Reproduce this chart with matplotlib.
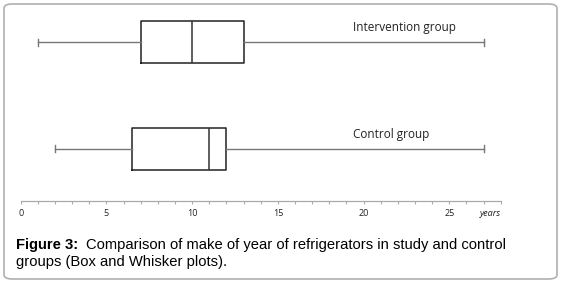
import matplotlib
matplotlib.use("Agg")
from matplotlib import pyplot as plt
from matplotlib.patches import FancyBboxPatch

# box and whisker summaries (years)
groups = ["Control group", "Intervention group"]
whisker_low = [2, 1]
q1 = [6.5, 7]
median = [11, 10]
q3 = [12, 13]
whisker_high = [27, 27]
tick_values = list(range(0, 26, 5))
tick_labels = [str(t) for t in tick_values]

fig = plt.figure(figsize=(5.61, 2.83), dpi=100)

# rounded grey frame round the whole figure
frame = FancyBboxPatch((4 / 561, 4 / 283), 553 / 561, 275 / 283,
                       boxstyle="round,pad=0,rounding_size=0.015",
                       transform=fig.transFigure, facecolor="white",
                       edgecolor="#b0b0b0", linewidth=1.2, zorder=-5)
fig.patches.append(frame)

ax = fig.add_axes([20.7 / 561, 82 / 283, 480 / 561, 191 / 283])
ax.patch.set_visible(False)

stats = []
for i in range(len(groups)):
    stats.append(dict(whislo=whisker_low[i], q1=q1[i], med=median[i],
                      q3=q3[i], whishi=whisker_high[i], fliers=[]))

ax.bxp(stats, positions=[1, 2], widths=0.395, vert=False, showfliers=False,
       boxprops=dict(color="#222222", linewidth=1.1),
       medianprops=dict(color="#333333", linewidth=1.1),
       whiskerprops=dict(color="#777777", linewidth=1.0),
       capprops=dict(color="#777777", linewidth=1.0), capwidths=0.07)

ax.set_xlim(0, 28)
ax.set_ylim(0.508, 2.304)

for spine in ["top", "left", "right"]:
    ax.spines[spine].set_visible(False)
ax.spines["bottom"].set_color("#aaaaaa")
ax.spines["bottom"].set_linewidth(0.9)
ax.set_yticks([])
ax.set_xticks(tick_values)
ax.set_xticklabels(tick_labels, fontsize=6.5, color="#222222", family="Open Sans")
ax.set_xticks(range(0, 29), minor=True)
ax.tick_params(axis="x", which="both", direction="out", length=2.5,
               color="#aaaaaa", width=0.8, pad=3)

ax.annotate("years", xy=(28, 0), xycoords=ax.get_xaxis_transform(),
            xytext=(0, -5.5), textcoords="offset points",
            ha="right", va="top", fontsize=6.5, style="italic",
            family="Open Sans", color="#222222")

ax.text(19.4, 2.14, groups[1], ha="left", va="center", fontsize=8.5,
        family="Open Sans", color="#222222")
ax.text(19.4, 1.135, groups[0], ha="left", va="center", fontsize=8.5,
        family="Open Sans", color="#222222")

fig.text(16 / 561, 1 - 245 / 283, "Figure 3:", ha="left", va="center",
         fontsize=10.6, fontweight="bold", family="Liberation Sans")
fig.text(506 / 561, 1 - 245 / 283,
         "Comparison of make of year of refrigerators in study and control",
         ha="right", va="center", fontsize=10.6, family="Liberation Sans")
fig.text(16 / 561, 1 - 262 / 283, "groups (Box and Whisker plots).",
         ha="left", va="center", fontsize=10.6, family="Liberation Sans")

fig.savefig("out.png", dpi=100)
